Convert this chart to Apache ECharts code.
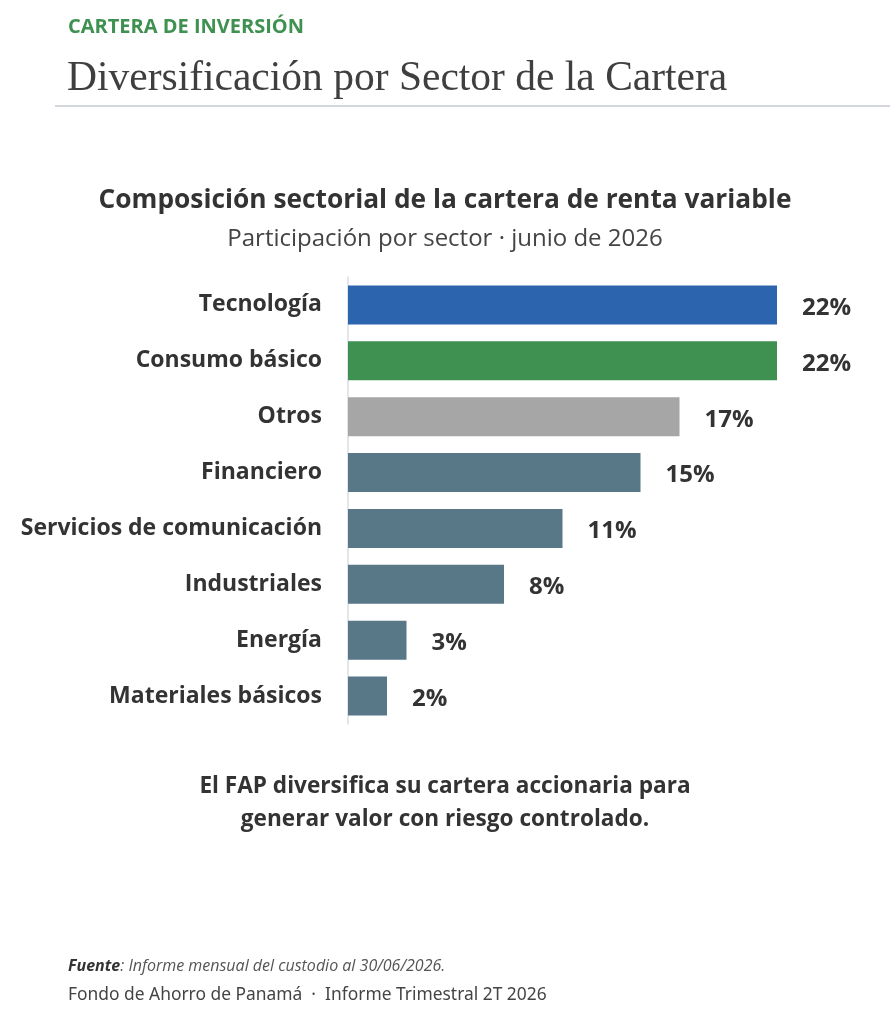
<!DOCTYPE html>
<html>
<head>
<meta charset="utf-8">
<script src="https://cdn.jsdelivr.net/npm/echarts@6/dist/echarts.min.js"></script>
<style>
  html, body { margin: 0; padding: 0; background: #fff; }
  #chart { width: 890px; height: 1024px; }
</style>
</head>
<body>
<div id="chart"></div>
<script>
// sectores, de arriba hacia abajo
var sectores = ['Tecnología', 'Consumo básico', 'Otros', 'Financiero',
                'Servicios de comunicación', 'Industriales', 'Energía', 'Materiales básicos'];
var participacion = [22, 22, 17, 15, 11, 8, 3, 2];
var colores = ['#2C64AD', '#3E9150', '#A6A6A6', '#587888', '#587888', '#587888', '#587888', '#587888'];

var fontSans = '"Open Sans", sans-serif';

var chart = echarts.init(document.getElementById('chart'));
var option = {
    backgroundColor: '#ffffff',
    animation: false,
    grid: {
        left: 348,
        right: 113,
        top: 277,
        height: 447
    },
    xAxis: {
        type: 'value',
        min: 0,
        max: 22,
        show: false
    },
    yAxis: {
        type: 'category',
        inverse: true,
        data: sectores,
        axisLine: { show: true, lineStyle: { color: '#D9DEE3', width: 1.5 } },
        axisTick: { show: false },
        axisLabel: {
            margin: 26,
            padding: [5, 0, 0, 0],
            fontFamily: fontSans,
            fontWeight: 'bold',
            fontSize: 23,
            color: '#333333'
        }
    },
    series: [{
        type: 'bar',
        barWidth: '70%',
        data: participacion.map(function (v, i) {
            return { value: v, itemStyle: { color: colores[i] } };
        }),
        label: {
            show: true,
            position: 'right',
            distance: 25,
            offset: [0, 3],
            formatter: '{c}%',
            fontFamily: fontSans,
            fontWeight: 'bold',
            fontSize: 24,
            color: '#333333'
        }
    }],
    graphic: [
        { type: 'text', left: 68, top: 17,
          style: { text: 'CARTERA DE INVERSIÓN', fontFamily: fontSans, fontWeight: 'bold',
                   fontSize: 20, fill: '#3E9150' } },
        { type: 'text', left: 67, top: 58,
          style: { text: 'Diversificación por Sector de la Cartera', fontFamily: '"Liberation Serif", serif',
                   fontSize: 41.5, fill: '#3F3F3F' } },
        { type: 'rect', shape: { x: 55, y: 105, width: 835, height: 2 },
          style: { fill: '#D3D7DC' } },
        { type: 'text', left: 'center', top: 188,
          style: { text: 'Composición sectorial de la cartera de renta variable', fontFamily: fontSans,
                   fontWeight: 'bold', fontSize: 26.3, fill: '#333333' } },
        { type: 'text', left: 'center', top: 227,
          style: { text: 'Participación por sector · junio de 2026', fontFamily: fontSans,
                   fontSize: 24, fill: '#444444' } },
        { type: 'text', left: 'center', top: 775,
          style: { text: 'El FAP diversifica su cartera accionaria para', fontFamily: fontSans,
                   fontWeight: 'bold', fontSize: 22.6, fill: '#333333' } },
        { type: 'text', left: 'center', top: 808,
          style: { text: 'generar valor con riesgo controlado.', fontFamily: fontSans,
                   fontWeight: 'bold', fontSize: 22.6, fill: '#333333' } },
        { type: 'text', left: 68, top: 958,
          style: { text: '{b|Fuente}{i|: Informe mensual del custodio al 30/06/2026.}',
                   rich: {
                       b: { fontFamily: fontSans, fontStyle: 'italic', fontWeight: 'bold', fontSize: 16, fill: '#333333' },
                       i: { fontFamily: fontSans, fontStyle: 'italic', fontSize: 16, fill: '#555555' }
                   } } },
        { type: 'text', left: 68, top: 987,
          style: { text: 'Fondo de Ahorro de Panamá  ·  Informe Trimestral 2T 2026', fontFamily: '"Noto Sans", sans-serif',
                   fontSize: 17.4, fill: '#444444' } }
    ]
};
chart.setOption(option);
</script>
</body>
</html>
